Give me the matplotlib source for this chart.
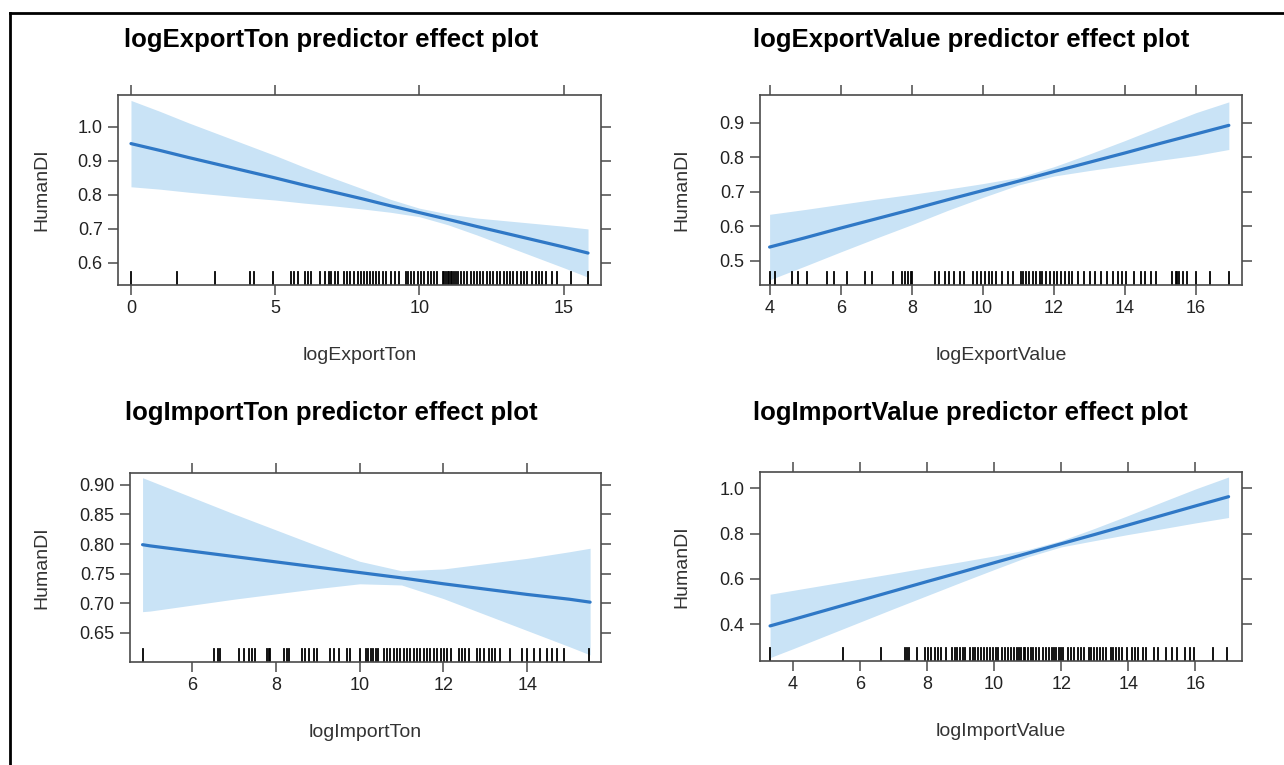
import numpy as np
import matplotlib
matplotlib.use("Agg")
from matplotlib import pyplot as plt
from matplotlib.lines import Line2D

plt.rcParams['font.family'] = ['Liberation Sans', 'DejaVu Sans']

# ---- data ----
# logExportTon
et_x = [0, 1, 2, 3, 4, 5, 6, 7, 8, 9, 10, 11, 12, 13, 14, 15, 15.85]
et_fit = [0.951, 0.931, 0.910, 0.890, 0.870, 0.850, 0.829, 0.809, 0.789, 0.768, 0.748, 0.728, 0.707, 0.687, 0.667, 0.647, 0.629]
et_up = [1.078, 1.046, 1.012, 0.980, 0.948, 0.916, 0.882, 0.850, 0.819, 0.787, 0.761, 0.744, 0.732, 0.724, 0.716, 0.708, 0.700]
et_lo = [0.824, 0.817, 0.808, 0.800, 0.792, 0.785, 0.776, 0.768, 0.759, 0.749, 0.736, 0.712, 0.682, 0.650, 0.618, 0.586, 0.558]
et_rug = [0.0, 1.58, 2.9, 4.12, 4.27, 4.92, 5.56, 5.67, 5.79, 6.02, 6.14, 6.25, 6.54, 6.74, 6.85, 6.94,
          7.08, 7.17, 7.38, 7.50, 7.60, 7.75, 7.87, 7.96, 8.07, 8.19, 8.30, 8.38, 8.50, 8.61, 8.73, 8.85,
          9.02, 9.16, 9.31, 9.54, 9.62, 9.71, 9.83, 9.94, 10.06, 10.17, 10.29, 10.40, 10.52, 10.61,
          10.81, 10.86, 10.92, 10.98, 11.04, 11.09, 11.15, 11.21, 11.27, 11.33, 11.44, 11.56, 11.67,
          11.79, 11.88, 12.0, 12.11, 12.22, 12.34, 12.46, 12.57, 12.69, 12.80, 12.92, 13.03, 13.15,
          13.26, 13.38, 13.52, 13.63, 13.75, 13.92, 14.04, 14.15, 14.27, 14.38, 14.61, 14.79, 15.25, 15.85]

# logExportValue
ev_x = [4, 5, 6, 7, 8, 9, 10, 11, 12, 13, 14, 15, 16, 16.92]
ev_fit = [0.539, 0.566, 0.594, 0.621, 0.648, 0.676, 0.703, 0.730, 0.758, 0.785, 0.812, 0.840, 0.867, 0.892]
ev_up = [0.634, 0.648, 0.663, 0.678, 0.692, 0.707, 0.723, 0.741, 0.772, 0.809, 0.848, 0.889, 0.929, 0.960]
ev_lo = [0.444, 0.484, 0.525, 0.565, 0.604, 0.645, 0.683, 0.719, 0.745, 0.761, 0.776, 0.791, 0.805, 0.822]
ev_rug = [4.0, 4.16, 4.64, 4.80, 5.05, 5.61, 5.82, 6.17, 6.68, 6.89, 7.48, 7.73, 7.80, 7.89, 7.97, 8.02,
          8.66, 8.77, 8.93, 9.04, 9.20, 9.36, 9.47, 9.73, 9.84, 9.95, 10.06, 10.16, 10.27, 10.38, 10.54,
          10.70, 10.86, 11.07, 11.13, 11.2, 11.3, 11.4, 11.5, 11.6, 11.67, 11.77, 11.88, 11.99, 12.09,
          12.2, 12.31, 12.41, 12.52, 12.68, 12.84, 13.0, 13.16, 13.32, 13.49, 13.65, 13.81, 13.91, 14.02,
          14.24, 14.45, 14.56, 14.72, 14.88, 15.31, 15.42, 15.47, 15.52, 15.63, 15.74, 16.0, 16.38, 16.92]

# logImportTon
it_x = [4.82, 5, 6, 7, 8, 9, 10, 11, 12, 13, 14, 15, 15.5]
it_fit = [0.799, 0.797, 0.788, 0.779, 0.770, 0.761, 0.752, 0.743, 0.733, 0.724, 0.715, 0.707, 0.702]
it_up = [0.912, 0.907, 0.879, 0.851, 0.824, 0.797, 0.771, 0.755, 0.758, 0.767, 0.776, 0.787, 0.793]
it_lo = [0.686, 0.687, 0.697, 0.707, 0.716, 0.725, 0.733, 0.731, 0.708, 0.681, 0.654, 0.627, 0.613]
it_rug = [4.83, 6.52, 6.61, 6.66, 7.11, 7.23, 7.35, 7.43, 7.51, 7.79, 7.83, 7.87, 8.19, 8.27, 8.31,
          8.63, 8.70, 8.78, 8.90, 8.98, 9.30, 9.38, 9.50, 9.70, 9.78, 10.02, 10.14, 10.19, 10.26, 10.32,
          10.38, 10.43, 10.57, 10.65, 10.73, 10.81, 10.89, 10.97, 11.05, 11.13, 11.21, 11.29, 11.37,
          11.45, 11.53, 11.61, 11.69, 11.77, 11.85, 11.93, 12.01, 12.09, 12.17, 12.36, 12.44, 12.52,
          12.60, 12.80, 12.88, 12.96, 13.08, 13.16, 13.24, 13.36, 13.60, 13.88, 14.0, 14.15, 14.31,
          14.47, 14.59, 14.71, 14.87, 15.47]

# logImportValue
iv_x = [3.32, 4, 5, 6, 7, 8, 9, 10, 11, 12, 13, 14, 15, 16, 16.99]
iv_fit = [0.392, 0.420, 0.462, 0.504, 0.546, 0.588, 0.629, 0.671, 0.713, 0.755, 0.796, 0.838, 0.880, 0.922, 0.963]
iv_up = [0.532, 0.549, 0.574, 0.599, 0.624, 0.650, 0.675, 0.701, 0.729, 0.769, 0.823, 0.880, 0.939, 0.997, 1.050]
iv_lo = [0.252, 0.291, 0.350, 0.409, 0.468, 0.526, 0.584, 0.641, 0.697, 0.741, 0.769, 0.796, 0.821, 0.847, 0.871]
iv_rug = [3.32, 5.48, 6.62, 7.33, 7.40, 7.47, 7.71, 7.94, 8.04, 8.13, 8.23, 8.32, 8.42, 8.56, 8.75,
          8.82, 8.89, 8.99, 9.06, 9.13, 9.27, 9.36, 9.43, 9.51, 9.60, 9.70, 9.79, 9.89, 9.98, 10.05,
          10.12, 10.22, 10.31, 10.41, 10.50, 10.60, 10.67, 10.74, 10.80, 10.88, 10.93, 11.02, 11.10,
          11.16, 11.26, 11.35, 11.45, 11.54, 11.64, 11.73, 11.78, 11.85, 11.92, 12.0, 12.06, 12.20,
          12.30, 12.39, 12.49, 12.58, 12.68, 12.82, 12.89, 12.97, 13.06, 13.15, 13.25, 13.34, 13.48,
          13.55, 13.63, 13.72, 13.82, 13.96, 14.10, 14.19, 14.29, 14.43, 14.53, 14.77, 14.89, 15.11,
          15.29, 15.46, 15.68, 15.85, 15.97, 16.54, 16.94]

W, H = 1284, 765
BAND = '#c9e3f6'
LINE = '#2f78c6'
AXC = '#4a4a4a'

panels = [
    # name, x, fit, up, lo, rug, box(l, r, t, b) px, xlim, ylim, xticks, yticks, fmt, title pos, ylabel x
    ('logExportTon', et_x, et_fit, et_up, et_lo, et_rug, (118, 601, 95, 285),
     (-0.45, 16.3), (0.535, 1.094), [0, 5, 10, 15], [0.6, 0.7, 0.8, 0.9, 1.0], '%.1f', (331, 40), 45),
    ('logExportValue', ev_x, ev_fit, ev_up, ev_lo, ev_rug, (760, 1242, 95, 285),
     (3.73, 17.29), (0.429, 0.98), [4, 6, 8, 10, 12, 14, 16], [0.5, 0.6, 0.7, 0.8, 0.9], '%.1f', (971, 40), 685),
    ('logImportTon', it_x, it_fit, it_up, it_lo, it_rug, (130, 601, 473, 662),
     (4.52, 15.76), (0.601, 0.92), [6, 8, 10, 12, 14], [0.65, 0.70, 0.75, 0.80, 0.85, 0.90], '%.2f', (331, 413), 45),
    ('logImportValue', iv_x, iv_fit, iv_up, iv_lo, iv_rug, (760, 1242, 472, 661),
     (3.02, 17.39), (0.237, 1.072), [4, 6, 8, 10, 12, 14, 16], [0.4, 0.6, 0.8, 1.0], '%.1f', (970, 413), 685),
]

fig = plt.figure(figsize=(W / 100, H / 100), dpi=100)

for name, x, fit, up, lo, rug, box, xlim, ylim, xt, yt, fmt, tpos, ylx in panels:
    l, r, t, b = box
    ax = fig.add_axes([l / W, 1 - b / H, (r - l) / W, (b - t) / H])
    ax.fill_between(x, lo, up, color=BAND, lw=0)
    ax.plot(x, fit, color=LINE, lw=2.3, solid_capstyle='round')
    for v in rug:
        ax.plot([v, v], [0, 0.068], color='black', lw=1.3, transform=ax.get_xaxis_transform())
    ax.set_xlim(*xlim)
    ax.set_ylim(*ylim)
    ax.set_xticks(xt)
    ax.set_yticks(yt)
    ax.set_yticklabels([fmt % v for v in yt])
    ax.tick_params(direction='out', length=7, width=1.1, color=AXC, top=True, right=True,
                   labelsize=13, labelcolor='#222222', pad=4)
    for s in ax.spines.values():
        s.set_color(AXC)
        s.set_linewidth(1.2)
    ax.set_xlabel(name, fontsize=14, color='#333333')
    ax.xaxis.set_label_coords(0.5, -62 / (b - t))
    ax.set_ylabel('HumanDI', fontsize=14, color='#333333')
    ax.yaxis.set_label_coords(-(l - ylx - 5) / (r - l), 0.5)
    fig.text(tpos[0] / W, 1 - tpos[1] / H, name + ' predictor effect plot',
             fontsize=18.5, fontweight='bold', ha='center', va='center')

# screenshot frame (left and top edge)
fig.add_artist(Line2D([10 / W, 10 / W], [0, 1 - 13 / H], color='black', lw=2))
fig.add_artist(Line2D([10 / W, 1], [1 - 13 / H, 1 - 13 / H], color='black', lw=2))

fig.savefig('out.png', dpi=100)
